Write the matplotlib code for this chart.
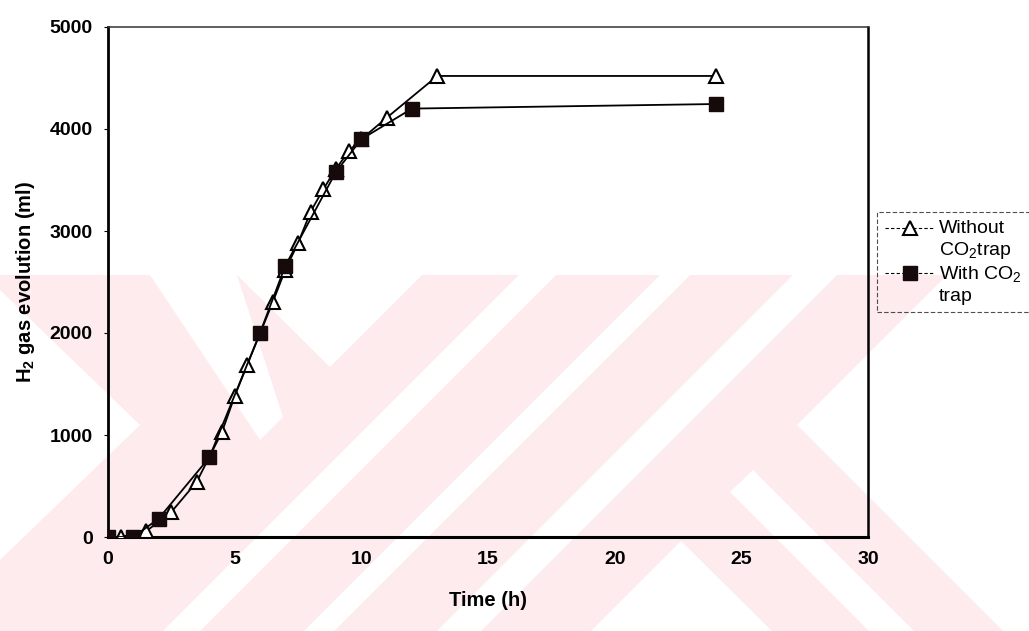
import matplotlib
matplotlib.use("Agg")
import matplotlib.pyplot as plt
from matplotlib.lines import Line2D
from matplotlib.patches import Polygon
from matplotlib.legend_handler import HandlerLine2D

plt.rcParams['font.family'] = ['Liberation Sans', 'DejaVu Sans']
plt.rcParams['mathtext.fontset'] = 'custom'
plt.rcParams['mathtext.rm'] = 'Liberation Sans'
plt.rcParams['mathtext.bf'] = 'Liberation Sans:bold'

# data
time_without = [0, 0.5, 1.5, 2.5, 3.5, 4.5, 5, 5.5, 6.5, 7, 7.5, 8, 8.5, 9, 9.5, 10, 11, 13, 24]
h2_without = [0, 0, 55, 245, 540, 1030, 1380, 1690, 2300, 2620, 2880, 3190, 3410, 3610, 3780, 3900, 4110, 4520, 4520]

time_with = [0, 1, 2, 4, 6, 7, 9, 10, 12, 24]
h2_with = [0, 0, 180, 780, 2000, 2660, 3580, 3900, 4200, 4245]

labels = ["Without\nCO$_2$trap", "With CO$_2$\ntrap"]
x_ticks = [0, 5, 10, 15, 20, 25, 30]
y_ticks = [0, 1000, 2000, 3000, 4000, 5000]

W, H = 1029, 631
fig = plt.figure(figsize=(W / 100, H / 100), dpi=100)

# faint pink watermark of the scanned page (pixel coords, y down)
pink = [(0, 275), (947, 275), (797, 425), (1003, 631), (0, 631)]
white_cuts = [
    [(519, 275), (556, 275), (200, 631), (163, 631)],
    [(660, 275), (690, 275), (334, 631), (304, 631)],
    [(793, 275), (837, 275), (481, 631), (437, 631)],
    [(681, 541), (591, 631), (772, 631)],
    [(730, 492), (753, 470), (914, 631), (869, 631)],
    [(237, 275), (422, 275), (330, 367)],
    [(150, 275), (237, 275), (283, 417), (260, 440)],
    [(0, 290), (140, 425), (0, 560)],
]


def to_fig(pts):
    return [(x / W, 1 - y / H) for x, y in pts]


fig.add_artist(Polygon(to_fig(pink), closed=True, facecolor='#fdebee',
                       edgecolor='none', transform=fig.transFigure, zorder=-2))
for cut in white_cuts:
    fig.add_artist(Polygon(to_fig(cut), closed=True, facecolor='white',
                           edgecolor='none', transform=fig.transFigure, zorder=-1))

ax = fig.add_axes([108 / W, 94 / H, 760 / W, 510 / H])
ax.patch.set_alpha(0)

ax.plot(time_without, h2_without, color='black', lw=1.3, marker='^', ms=10.5,
        mfc='white', mec='black', mew=1.5, zorder=3)
ax.plot(time_with, h2_with, color='black', lw=1.3, marker='s', ms=10.5,
        mfc='#160a0a', mec='#160a0a', zorder=4)

ax.set_xlim(0, 30)
ax.set_ylim(0, 5000)
ax.set_xticks(x_ticks)
ax.set_yticks(y_ticks)
ax.tick_params(axis='x', length=0, pad=10, labelsize=14)
ax.tick_params(axis='y', direction='out', length=3, width=0.8, pad=8, labelsize=14)
for lab in ax.get_xticklabels() + ax.get_yticklabels():
    lab.set_fontweight('bold')

ax.spines['left'].set_linewidth(2.0)
ax.spines['bottom'].set_linewidth(2.2)
ax.spines['right'].set_linewidth(1.8)
ax.spines['top'].set_linewidth(1.1)
ax.spines['top'].set_color('#333333')

ax.set_xlabel("Time (h)", fontsize=14.5, fontweight='bold', labelpad=17)
ax.set_ylabel(r"H$_\mathbf{2}$ gas evolution (ml)", fontsize=14.5, fontweight='bold', labelpad=9)


class TopLineHandler(HandlerLine2D):
    # put the symbol level with the first text line
    def create_artists(self, legend, orig_handle, xdescent, ydescent, width, height, fontsize, trans):
        arts = super().create_artists(legend, orig_handle, xdescent, ydescent,
                                      width, height, fontsize, trans)
        for a in arts:
            a.set_ydata([y + 8.3 for y in a.get_ydata()])
        return arts


handles = [
    Line2D([], [], color='black', lw=0.8, ls=(0, (3, 2)), marker='^', ms=10,
           mfc='white', mec='black', mew=1.5),
    Line2D([], [], color='black', lw=0.8, ls=(0, (3, 2)), marker='s', ms=10,
           mfc='#160a0a', mec='#160a0a'),
]
leg = ax.legend(handles, labels, loc='upper left',
                bbox_to_anchor=(877 / W, 1 - 212 / H, 200 / W, 0),
                bbox_transform=fig.transFigure, mode='expand', borderaxespad=0,
                frameon=True, fancybox=False, fontsize=14, handlelength=2.55,
                handletextpad=0.25, labelspacing=0.2, borderpad=0.4,
                handler_map={Line2D: TopLineHandler(numpoints=1)})
frame = leg.get_frame()
frame.set_linestyle((0, (4, 2)))
frame.set_linewidth(0.8)
frame.set_edgecolor('#222222')
frame.set_facecolor('none')

fig.savefig("out.png", dpi=100)
